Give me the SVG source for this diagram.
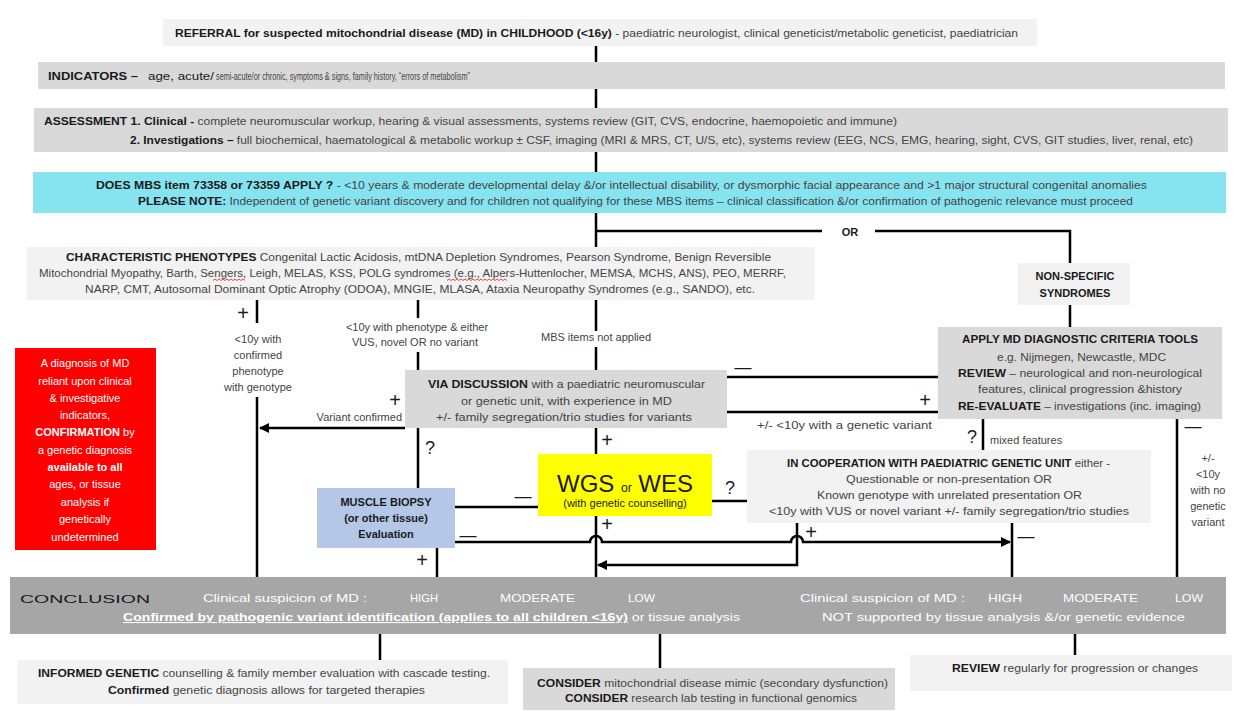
<svg xmlns="http://www.w3.org/2000/svg" width="1260" height="711" viewBox="0 0 1260 711">
<defs>
<style>
text{font-family:"Liberation Sans",Arial,sans-serif;fill:#1a1a1a;font-size:11px}
.bd{font-weight:bold}
.lt{fill:#f2f2f2}
.gr{fill:#d9d9d9}
.ln{stroke:#000;stroke-width:2.5;fill:none}
.sym{font-size:20px}
.dash{font-size:17px}
.q{font-size:18px}
.c{text-anchor:middle}
.w{fill:#ffffff}
.sub{fill:#444}
</style>
<marker id="ah" viewBox="0 0 10 10" refX="9" refY="5" markerWidth="4" markerHeight="4" orient="auto-start-reverse"><path d="M0,0 L10,5 L0,10 z" fill="#000"/></marker>
</defs>
<rect x="0" y="0" width="1260" height="711" fill="#ffffff"/>

<g id="connectors">
<path class="ln" d="M596,45 V62 M596,88 V108 M596,152 V172 M596,212 V247 M596,300 V331 M596,347 V370 M596,428 V454 M596,516 V577"/>
<path class="ln" d="M596,231 H822 M875,231 H1070 V263 M1070,305 V327"/>
<path class="ln" d="M257,300 V323 M257,397 V577"/>
<path class="ln" d="M418,300 V318 M418,352 V370 M418,428 V488"/>
<path class="ln" d="M405,428 H260" marker-end="url(#ah)"/>
<path class="ln" d="M727,377 H938 M727,412 H938"/>
<path class="ln" d="M983,419 V450 M1177,419 V577"/>
<path class="ln" d="M712,501 H747"/>
<path class="ln" d="M455,507 H538"/>
<path class="ln" d="M455,542 H590 A6,6 0 0 1 602,542 H791 A6,6 0 0 1 803,542 H1010" marker-end="url(#ah)"/>
<path class="ln" d="M797,523 V565 H598" marker-end="url(#ah)"/>
<path class="ln" d="M1012,523 V577 M437,548 V577"/>
<path class="ln" d="M380,634 V660 M660,634 V668 M1075,634 V655"/>
</g>

<g id="referral">
<rect x="163" y="19" width="874" height="27" class="lt"/>
<text x="175" y="37" textLength="843" lengthAdjust="spacingAndGlyphs"><tspan class="bd">REFERRAL for suspected mitochondrial disease (MD) in CHILDHOOD (&lt;16y)</tspan><tspan class="sub"> - paediatric neurologist, clinical geneticist/metabolic geneticist, paediatrician</tspan></text>
</g>

<g id="indicators">
<rect x="38" y="62" width="1187" height="27" class="gr"/>
<text x="48" y="80" textLength="90" lengthAdjust="spacingAndGlyphs" class="bd">INDICATORS –</text>
<text x="148" y="80" textLength="66" lengthAdjust="spacingAndGlyphs" font-size="12">age,  acute/</text>
<text x="216" y="80" textLength="254" lengthAdjust="spacingAndGlyphs" font-size="10" class="sub">semi-acute/or chronic, symptoms &amp; signs, family history, “errors of metabolism”</text>
</g>

<g id="assessment">
<rect x="34" y="108" width="1194" height="44" class="gr"/>
<text x="44" y="125" textLength="853" lengthAdjust="spacingAndGlyphs"><tspan class="bd">ASSESSMENT  1. Clinical - </tspan><tspan class="sub">complete neuromuscular workup, hearing &amp; visual assessments, systems review (GIT, CVS, endocrine, haemopoietic and immune)</tspan></text>
<text x="130" y="144" textLength="1063" lengthAdjust="spacingAndGlyphs"><tspan class="bd">2. Investigations – </tspan><tspan class="sub">full biochemical, haematological &amp; metabolic workup ± CSF,  imaging (MRI &amp; MRS, CT, U/S, etc), systems review (EEG, NCS, EMG, hearing, sight, CVS, GIT studies, liver, renal, etc)</tspan></text>
</g>

<g id="mbs">
<rect x="33" y="172" width="1193" height="41" fill="#86e3f0"/>
<text x="96" y="189" textLength="1051" lengthAdjust="spacingAndGlyphs"><tspan class="bd">DOES MBS item 73358 or 73359 APPLY ? </tspan><tspan class="sub"> -  &lt;10 years &amp; moderate developmental delay &amp;/or intellectual disability, or dysmorphic facial appearance and  &gt;1 major structural congenital anomalies</tspan></text>
<text x="138" y="205" textLength="995" lengthAdjust="spacingAndGlyphs"><tspan class="bd">PLEASE NOTE: </tspan><tspan class="sub">  Independent of genetic variant discovery and for children not qualifying for these MBS items – clinical classification &amp;/or confirmation of pathogenic relevance must proceed</tspan></text>
</g>

<g id="or-label"><text x="850" y="236" class="bd c" font-size="12">OR</text></g>

<g id="characteristic">
<rect x="27" y="247" width="788" height="53" class="lt"/>
<text x="66" y="261" textLength="705" lengthAdjust="spacingAndGlyphs"><tspan class="bd">CHARACTERISTIC PHENOTYPES </tspan><tspan class="sub">  Congenital Lactic Acidosis, mtDNA Depletion Syndromes, Pearson Syndrome, Benign Reversible</tspan></text>
<text x="39" y="277" textLength="747" lengthAdjust="spacingAndGlyphs" class="sub">Mitochondrial Myopathy, Barth, Sengers, Leigh, MELAS, KSS, POLG syndromes (e.g., Alpers-Huttenlocher, MEMSA, MCHS, ANS), PEO, MERRF,</text>
<text x="85" y="293" textLength="670" lengthAdjust="spacingAndGlyphs" class="sub">NARP, CMT, Autosomal Dominant Optic Atrophy (ODOA), MNGIE, MLASA, Ataxia Neuropathy Syndromes (e.g., SANDO), etc.</text>
<path d="M213,280.5 l2,-1.5 l2,1.5 l2,-1.5 l2,1.5 l2,-1.5 l2,1.5 l2,-1.5 l2,1.5 l2,-1.5 l2,1.5 l2,-1.5 l2,1.5 l2,-1.5 l2,1.5 l2,-1.5 l2,1.5" fill="none" stroke="#e02020" stroke-width="0.8"/>
<path d="M447,280.5 l2,-1.5 l2,1.5 l2,-1.5 l2,1.5 l2,-1.5 l2,1.5 l2,-1.5 l2,1.5 l2,-1.5 l2,1.5 l2,-1.5 l2,1.5 l2,-1.5 l2,1.5 l2,-1.5 l2,1.5 l2,-1.5 l2,1.5 l2,-1.5 l2,1.5 l2,-1.5 l2,1.5 l2,-1.5 l2,1.5 l2,-1.5 l2,1.5 l2,-1.5 l2,1.5 l2,-1.5 l2,1.5" fill="none" stroke="#e02020" stroke-width="0.8"/>
</g>

<g id="nonspecific">
<rect x="1018" y="263" width="112" height="42" class="lt"/>
<text x="1075" y="280" class="bd c">NON-SPECIFIC</text>
<text x="1075" y="297" class="bd c">SYNDROMES</text>
</g>

<g id="apply">
<rect x="938" y="327" width="284" height="92" class="gr"/>
<text x="962" y="343" textLength="236" lengthAdjust="spacingAndGlyphs" class="bd">APPLY MD DIAGNOSTIC CRITERIA TOOLS</text>
<text x="997" y="361" textLength="169" lengthAdjust="spacingAndGlyphs" class="sub">e.g. Nijmegen, Newcastle, MDC</text>
<text x="958" y="377" textLength="244" lengthAdjust="spacingAndGlyphs"><tspan class="bd">REVIEW</tspan><tspan class="sub"> – neurological and non-neurological</tspan></text>
<text x="978" y="393" textLength="204" lengthAdjust="spacingAndGlyphs" class="sub">features, clinical progression &amp;history</text>
<text x="958" y="410" textLength="243" lengthAdjust="spacingAndGlyphs"><tspan class="bd">RE-EVALUATE</tspan><tspan class="sub"> – investigations (inc. imaging)</tspan></text>
</g>

<g id="red-note">
<rect x="15" y="348" width="141" height="202" fill="#ff0000"/>
<text x="85" y="367" class="c w" font-size="13">A diagnosis of MD</text>
<text x="85" y="385" class="c w" font-size="13">reliant upon clinical</text>
<text x="85" y="402" class="c w" font-size="13">&amp; investigative</text>
<text x="85" y="419" class="c w" font-size="13">indicators,</text>
<text x="85" y="436" class="c w" font-size="13"><tspan class="bd w">CONFIRMATION</tspan> by</text>
<text x="85" y="454" class="c w" font-size="13">a genetic diagnosis</text>
<text x="85" y="471" class="c w bd" font-size="13">available to all</text>
<text x="85" y="488" class="c w" font-size="13">ages, or tissue</text>
<text x="85" y="506" class="c w" font-size="13">analysis if</text>
<text x="85" y="523" class="c w" font-size="13">genetically</text>
<text x="85" y="541" class="c w" font-size="13">undetermined</text>
</g>

<g id="via">
<rect x="405" y="370" width="322" height="58" class="gr"/>
<text x="428" y="388" textLength="277" lengthAdjust="spacingAndGlyphs"><tspan class="bd">VIA DISCUSSION</tspan><tspan class="sub"> with a paediatric neuromuscular</tspan></text>
<text x="461" y="405" textLength="211" lengthAdjust="spacingAndGlyphs" class="sub">or  genetic unit, with experience in MD</text>
<text x="436" y="421" textLength="256" lengthAdjust="spacingAndGlyphs" class="sub">+/-  family segregation/trio studies for variants</text>
</g>

<g id="wgs">
<rect x="538" y="454" width="174" height="62" fill="#ffff00"/>
<text x="625" y="492" class="c" fill="#333"><tspan font-size="24">WGS </tspan><tspan font-size="12">or</tspan><tspan font-size="24"> WES</tspan></text>
<text x="625" y="507" class="c" fill="#555" font-size="11">(with genetic counselling)</text>
</g>

<g id="muscle">
<rect x="317" y="488" width="138" height="60" fill="#b4c7e7"/>
<text x="386" y="506" class="c bd" font-size="11">MUSCLE BIOPSY</text>
<text x="386" y="522" class="c bd" font-size="11">(or other tissue)</text>
<text x="386" y="538" class="c bd" font-size="11">Evaluation</text>
</g>

<g id="cooperation">
<rect x="747" y="450" width="404" height="73" class="lt"/>
<text x="787" y="467" textLength="323" lengthAdjust="spacingAndGlyphs"><tspan class="bd">IN COOPERATION WITH PAEDIATRIC GENETIC UNIT</tspan><tspan class="sub"> either -</tspan></text>
<text x="846" y="483" textLength="206" lengthAdjust="spacingAndGlyphs" class="sub">Questionable or non-presentation  OR</text>
<text x="817" y="499" textLength="265" lengthAdjust="spacingAndGlyphs" class="sub">Known genotype with unrelated presentation OR</text>
<text x="769" y="515" textLength="360" lengthAdjust="spacingAndGlyphs" class="sub">&lt;10y with  VUS or novel variant +/-  family segregation/trio studies</text>
</g>

<g id="labels">
<text x="243" y="320" class="sym c">+</text>
<text x="258" y="343" class="c sub" font-size="11.5">&lt;10y with</text>
<text x="258" y="359" class="c sub" font-size="11.5">confirmed</text>
<text x="258" y="375" class="c sub" font-size="11.5">phenotype</text>
<text x="258" y="391" class="c sub" font-size="11.5">with genotype</text>
<text x="417" y="331" class="c sub" font-size="11">&lt;10y  with phenotype &amp; either</text>
<text x="415" y="346" class="c sub" font-size="11">VUS, novel OR no variant</text>
<text x="596" y="341" class="c sub" font-size="11">MBS items not applied</text>
<text x="395" y="407" class="sym c">+</text>
<text x="402" y="421" text-anchor="end" class="sub" font-size="11">Variant confirmed</text>
<text x="430" y="454" class="q c">?</text>
<text x="607" y="447" class="sym c">+</text>
<text x="743" y="373" class="dash c">—</text>
<text x="925" y="407" class="sym c">+</text>
<text x="757" y="429" textLength="175" lengthAdjust="spacingAndGlyphs" class="sub">+/-  &lt;10y  with  a genetic variant</text>
<text x="972" y="443" class="q c">?</text>
<text x="990" y="444" class="sub">mixed features</text>
<text x="1193" y="432" class="dash c">—</text>
<text x="1208" y="462" class="c sub">+/-</text>
<text x="1208" y="478" class="c sub">&lt;10y</text>
<text x="1208" y="494" class="c sub">with no</text>
<text x="1208" y="510" class="c sub">genetic</text>
<text x="1208" y="526" class="c sub">variant</text>
<text x="730" y="494" class="q c">?</text>
<text x="523" y="502" class="dash c">—</text>
<text x="468" y="541" class="dash c">—</text>
<text x="607" y="531" class="sym c">+</text>
<text x="811" y="539" class="sym c">+</text>
<text x="1026" y="542" class="dash c">—</text>
<text x="422" y="567" class="sym c">+</text>
</g>

<g id="conclusion">
<rect x="10" y="577" width="1216" height="57" fill="#a6a6a6"/>
<text x="20" y="603" textLength="130" lengthAdjust="spacingAndGlyphs" font-size="24" fill="#efefef">CONCLUSION</text>
<text x="203" y="602" textLength="164" lengthAdjust="spacingAndGlyphs" class="w" font-size="12.5">Clinical suspicion of MD :</text>
<text x="410" y="602" textLength="28" lengthAdjust="spacingAndGlyphs" class="w" font-size="12.5">HIGH</text>
<text x="500" y="602" textLength="75" lengthAdjust="spacingAndGlyphs" class="w" font-size="12.5">MODERATE</text>
<text x="628" y="602" textLength="27" lengthAdjust="spacingAndGlyphs" class="w" font-size="12.5">LOW</text>
<text x="800" y="602" textLength="165" lengthAdjust="spacingAndGlyphs" class="w" font-size="12.5">Clinical suspicion of MD :</text>
<text x="988" y="602" textLength="34" lengthAdjust="spacingAndGlyphs" class="w" font-size="12.5">HIGH</text>
<text x="1063" y="602" textLength="75" lengthAdjust="spacingAndGlyphs" class="w" font-size="12.5">MODERATE</text>
<text x="1175" y="602" textLength="28" lengthAdjust="spacingAndGlyphs" class="w" font-size="12.5">LOW</text>
<text x="123" y="621" textLength="617" lengthAdjust="spacingAndGlyphs" class="w" font-size="12.5"><tspan class="bd w" text-decoration="underline">Confirmed by pathogenic variant identification (applies to all children &lt;16y)</tspan><tspan class="w"> or tissue analysis</tspan></text>
<text x="822" y="621" textLength="363" lengthAdjust="spacingAndGlyphs" class="w" font-size="12.5">NOT supported by tissue analysis &amp;/or genetic evidence</text>
</g>

<g id="informed">
<rect x="17" y="660" width="491" height="44" class="lt"/>
<text x="38" y="677" textLength="452" lengthAdjust="spacingAndGlyphs"><tspan class="bd">INFORMED GENETIC</tspan><tspan class="sub"> counselling &amp; family member evaluation with cascade testing.</tspan></text>
<text x="108" y="694" textLength="317" lengthAdjust="spacingAndGlyphs"><tspan class="bd">Confirmed</tspan><tspan class="sub"> genetic diagnosis allows for targeted therapies</tspan></text>
</g>

<g id="consider">
<rect x="523" y="668" width="372" height="42" class="gr"/>
<text x="537" y="687" textLength="351" lengthAdjust="spacingAndGlyphs"><tspan class="bd">CONSIDER</tspan><tspan class="sub"> mitochondrial disease mimic (secondary dysfunction)</tspan></text>
<text x="565" y="702" textLength="292" lengthAdjust="spacingAndGlyphs"><tspan class="bd">CONSIDER</tspan><tspan class="sub"> research lab testing in functional genomics</tspan></text>
</g>

<g id="review">
<rect x="910" y="655" width="322" height="36" class="lt"/>
<text x="952" y="672" textLength="246" lengthAdjust="spacingAndGlyphs"><tspan class="bd">REVIEW</tspan><tspan class="sub"> regularly for progression or changes</tspan></text>
</g>
</svg>
